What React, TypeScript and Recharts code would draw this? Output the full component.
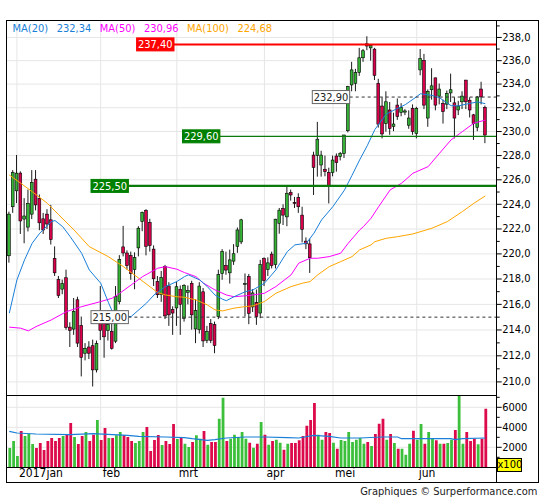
import React from "react";
import {
  ComposedChart,
  Bar,
  Line,
  XAxis,
  YAxis,
  CartesianGrid,
  ReferenceLine,
  Cell,
} from "recharts";

const FONT = '"DejaVu Sans Condensed", "Liberation Sans", Arial, sans-serif';
const UP = "#36b336";
const DOWN = "#d9004c";
const VOL_UP = "#3cc03c";
const VOL_DOWN = "#dc0a4b";
const MA20_COLOR = "#1a7fd8";
const MA50_COLOR = "#ff00ff";
const MA100_COLOR = "#ffa500";
const GRID = "#e6e6e6";

// month gridlines sit on the first session of each month (two Dec-2016 bars first)
const monthLabels = ["2017jan", "feb", "mrt", "apr", "mei", "jun"];
const monthStarts = [2, 24, 44, 67, 85, 107];

const opens = [
  219.85, 223.8, 225.1, 226.55, 222.8, 222.15, 223.2, 226.05, 224.48, 222.82,
  223.2, 222.74, 219.64, 217.95, 217.2, 218.1, 214.22, 214.07, 216.36, 214.35,
  212.2, 212.68, 212.78, 210.92, 214.77, 214.65, 213.97, 213.89, 213.13, 216.21,
  220.56, 220.07, 219.87, 218.74, 220.48, 222.6, 223.5, 222.52, 220.38, 217.8,
  216.76, 218.98, 217.45, 215.59, 215.72, 217.19, 214.91, 216.95, 217.66, 214.08,
  214.02, 216.99, 213.2, 214.49, 214.42, 215.05, 218.43, 219.07, 218.49, 219.42,
  220.61, 220.96, 217.58, 218.2, 215.8, 216.14, 215.32, 219.62, 218.76, 219.98,
  219.15, 222.46, 223.66, 222.98, 224.97, 224.15, 224.56, 223.12, 221.02, 220.8,
  228.04, 228.02, 227.22, 226.87, 226.61, 226.59, 227.96, 227.91, 228.18, 230.07,
  233.93, 234.07, 234.99, 236.25, 237.45, 237.1, 236.99, 234.07, 232.14, 230.67,
  231.81, 230.43, 232.22, 231.59, 231.63, 230.53, 231.95, 229.85, 235.21, 236.03,
  231.13, 233.52, 234.53, 232.98, 232.36, 232.3, 233.25, 232.41, 231.81, 232.5,
  234.34, 232.63, 231.4, 230.34, 233.58, 232.03,
];
const highs = [
  223.4, 226.8, 228.05, 226.7, 224.5, 225.2, 226.8, 226.8, 224.8, 223.3,
  223.6, 223.95, 220.6, 218.24, 217.95, 218.74, 214.6, 216.5, 216.6, 215.05,
  212.98, 213.13, 213.25, 213.18, 217.44, 215.35, 215.55, 214.62, 217.44, 219.9,
  222.25, 220.28, 220.18, 220.12, 222.22, 223.4, 223.6, 222.82, 220.68, 218.24,
  218.64, 219.12, 217.75, 215.85, 217.8, 217.49, 217.59, 217.49, 217.86, 216.4,
  217.75, 217.29, 214.32, 214.85, 214.65, 218.74, 220.38, 220.18, 220.34, 220.78,
  222.12, 222.82, 218.44, 218.4, 217.2, 217.17, 219.52, 219.72, 219.72, 220.18,
  222.82, 223.7, 224.0, 225.45, 225.2, 224.6, 224.9, 223.8, 221.32, 221.22,
  228.32, 230.81, 228.4, 228.0, 227.0, 228.0, 228.18, 228.3, 229.73, 233.85,
  235.9, 235.3, 237.1, 237.0, 238.1, 237.4, 237.1, 234.45, 232.88, 233.39,
  232.48, 231.58, 232.78, 232.38, 231.88, 231.78, 232.28, 232.08, 237.0, 236.58,
  233.55, 235.35, 234.55, 234.05, 232.68, 233.45, 234.89, 232.88, 232.58, 233.39,
  234.35, 232.88, 231.48, 232.98, 234.2, 232.18,
];
const lows = [
  219.3, 223.3, 224.1, 221.6, 220.85, 221.8, 222.8, 223.5, 221.9, 221.6,
  222.0, 220.75, 218.24, 216.5, 216.8, 214.02, 212.68, 213.62, 212.68, 210.42,
  211.65, 211.75, 209.65, 210.72, 213.22, 211.85, 213.18, 212.48, 212.98, 216.0,
  219.8, 218.74, 217.94, 217.19, 219.8, 221.82, 219.88, 220.18, 217.45, 216.5,
  216.2, 214.85, 214.32, 213.62, 214.32, 213.62, 214.65, 216.0, 214.02, 212.98,
  213.72, 212.68, 212.98, 212.98, 212.2, 214.85, 217.94, 218.34, 217.64, 219.12,
  220.08, 220.78, 215.05, 214.45, 215.4, 214.4, 214.92, 217.44, 218.24, 218.84,
  218.84, 221.62, 222.32, 222.22, 224.3, 223.7, 223.3, 220.92, 220.38, 218.48,
  224.76, 226.26, 226.26, 226.29, 224.07, 226.29, 226.67, 227.6, 227.8, 229.93,
  233.39, 233.39, 234.7, 235.9, 236.9, 236.0, 234.35, 230.33, 229.43, 229.99,
  229.73, 230.03, 230.98, 231.28, 231.38, 230.23, 229.73, 229.43, 234.75, 231.88,
  230.4, 232.68, 231.78, 232.28, 230.67, 231.88, 232.48, 229.43, 231.38, 231.88,
  231.88, 231.18, 229.3, 230.03, 232.28, 229.03,
];
const closes = [
  223.2, 226.6, 226.55, 222.65, 223.05, 224.08, 225.78, 223.95, 222.5, 221.92,
  222.4, 221.15, 218.49, 216.7, 217.63, 214.2, 213.97, 215.45, 212.98, 211.88,
  212.58, 212.2, 210.92, 212.94, 213.97, 213.47, 214.42, 212.58, 216.62, 219.56,
  220.07, 219.07, 218.43, 219.7, 222.06, 223.35, 220.61, 220.67, 218.02, 216.76,
  218.13, 215.1, 215.18, 215.32, 217.39, 216.0, 217.49, 217.09, 215.18, 215.51,
  217.44, 213.15, 213.88, 213.2, 212.8, 218.35, 220.2, 218.71, 219.52, 220.01,
  221.92, 222.74, 217.64, 215.3, 216.9, 215.04, 219.15, 217.88, 219.28, 219.07,
  222.79, 223.52, 223.12, 224.9, 224.76, 224.07, 223.8, 221.97, 220.8, 219.69,
  227.03, 229.36, 228.04, 226.67, 225.49, 227.63, 227.42, 228.18, 229.71, 233.8,
  235.21, 234.99, 236.25, 236.85, 237.26, 237.3, 234.75, 230.62, 229.8, 232.5,
  230.26, 230.63, 231.27, 232.03, 231.73, 231.13, 229.99, 231.95, 236.17, 232.22,
  233.39, 233.85, 232.22, 233.58, 231.68, 233.19, 233.52, 231.13, 232.14, 232.98,
  232.5, 231.81, 230.67, 232.91, 232.91, 229.71,
];
const volumes = [
  1930, 2630, 1130, 3630, 3130, 3360, 2330, 1930, 2430, 1730,
  2630, 2930, 2630, 2930, 3130, 3260, 4430, 3030, 2330, 3130,
  3530, 2630, 3260, 4730, 2730, 3930, 2930, 2930, 3200, 3530,
  3200, 3030, 2630, 2430, 2630, 3530, 4030, 1630, 2730, 3230,
  2230, 2630, 2330, 4330, 2830, 2950, 2350, 2030, 2530, 3200,
  2860, 3630, 2260, 2530, 2530, 4860, 6960, 2630, 2860, 3260,
  3030, 3530, 2860, 2460, 1960, 2360, 4530, 3260, 2260, 2630,
  2760, 2460, 1760, 2360, 2430, 2430, 2700, 3130, 4160, 4730,
  6430, 3260, 2760, 3530, 3430, 2460, 1860, 2730, 2630, 3530,
  2530, 2760, 2930, 2360, 2530, 2130, 3330, 4360, 4860, 2760,
  3330, 2430, 1860, 1860, 1260, 2360, 3660, 2760, 4330, 2360,
  3530, 2860, 2700, 2360, 2360, 2430, 2760, 3730, 7300, 2360,
  3530, 2630, 2860, 2300, 2860, 5860,
];

// moving averages at [bar, value]
const ma20Points = [
  [0, 215.31], [2, 217.93], [4, 219.52], [6, 220.85], [8, 221.66], [11, 222.59],
  [12, 222.68], [14, 222.19], [16, 221.38], [19, 220.05], [21, 218.72], [24, 217.67],
  [26, 216.17], [27, 215.48], [29, 215.05], [32, 215.05], [36, 216.09], [38, 216.74],
  [41, 217.4], [44, 217.8], [46, 218.19], [47, 218.33], [50, 217.93], [52, 217.4],
  [54, 216.74], [56, 216.4], [57, 216.29], [59, 216.6], [62, 217.0], [64, 217.14],
  [67, 217.67], [70, 218.72], [73, 220.18], [75, 220.72], [78, 220.85], [80, 221.66],
  [82, 222.73], [85, 223.82], [88, 225.15], [90, 226.37], [92, 227.64], [94, 228.82],
  [96, 230.17], [99, 231.47], [101, 231.79], [104, 232.26], [106, 232.71], [108, 233.18],
  [111, 233.04], [113, 232.84], [116, 232.17], [118, 232.16], [121, 232.37], [123, 232.49],
  [125, 232.34],
];
const ma50Points = [
  [0, 214.22], [3, 214.14], [5, 213.93], [7, 214.26], [11, 214.78], [15, 215.43],
  [19, 215.82], [24, 216.22], [27, 216.48], [29, 216.87], [32, 217.53], [35, 218.19],
  [39, 218.86], [41, 218.98], [44, 218.78], [46, 218.51], [49, 218.19], [51, 217.67],
  [54, 217.14], [57, 216.74], [59, 216.6], [63, 216.7], [67, 216.87], [70, 217.4],
  [74, 218.33], [76, 219.26], [79, 219.65], [81, 219.65], [84, 219.78], [87, 220.05],
  [89, 220.85], [92, 221.92], [93, 222.19], [95, 222.87], [97, 223.81], [100, 225.17],
  [103, 225.72], [106, 226.54], [110, 227.09], [113, 228.2], [116, 229.3], [119, 230.0],
  [122, 230.7], [125, 230.96],
];
const ma100Points = [
  [0, 226.4], [3, 225.72], [6, 225.03], [10, 224.08], [13, 223.14], [17, 221.92],
  [21, 220.58], [26, 219.78], [30, 218.98], [34, 218.06], [39, 216.92], [41, 216.74],
  [44, 216.6], [46, 216.56], [49, 216.35], [52, 215.96], [54, 215.57], [56, 215.49],
  [59, 215.7], [62, 215.83], [64, 215.88], [67, 216.22], [70, 216.87], [74, 217.4],
  [77, 217.67], [79, 217.8], [81, 218.33], [84, 218.98], [87, 219.38], [90, 219.78],
  [92, 220.32], [95, 220.72], [96, 220.98], [99, 221.25], [102, 221.38], [106, 221.6],
  [111, 222.06], [115, 222.59], [119, 223.41], [122, 224.08], [125, 224.68],
];
const volMaPoints = [
  [0, 3600], [2, 3430], [7, 3330], [16, 3260], [22, 3360], [31, 3200], [34, 3100],
  [41, 3030], [46, 2960], [48, 2860], [52, 2700], [54, 2760], [57, 2930], [62, 3030],
  [67, 3030], [73, 2960], [76, 2930], [80, 3200], [84, 3100], [87, 2930], [92, 2930],
  [98, 3030], [102, 3030], [103, 2860], [116, 2860], [117, 2760], [119, 2860], [125, 2930],
];

const legendNames = ["MA(20)", "MA(50)", "MA(100)"];
const legendValues = ["232,34", "230,96", "224,68"];
const legendColors = [MA20_COLOR, MA50_COLOR, MA100_COLOR];

// horizontal levels drawn on the price panel
const levelValues = [237.4, 229.6, 225.5, 232.9, 215.0];
const levelStyles = [
  { boxLeft: 136.6, fill: "#ff0000", border: "#ff0000", text: "#fff", line: "#ff0000", width: 2, dash: undefined },
  { boxLeft: 182.5, fill: "#008000", border: "#008000", text: "#fff", line: "#0a7a0a", width: 1.3, dash: undefined },
  { boxLeft: 91, fill: "#008000", border: "#008000", text: "#fff", line: "#0a7a0a", width: 2.2, dash: undefined },
  { boxLeft: 312.3, fill: "#fff", border: "#666", text: "#222", line: "#333", width: 1, dash: "3 3" },
  { boxLeft: 91, fill: "#fff", border: "#666", text: "#222", line: "#333", width: 1, dash: "3 3" },
];

const priceTicks = [
  210, 211, 212, 213, 214, 215, 216, 217, 218, 219, 220, 221, 222, 223, 224,
  225, 226, 227, 228, 229, 230, 231, 232, 233, 234, 235, 236, 237, 238, 239,
];
const priceGrid = [210, 212, 214, 216, 218, 220, 222, 224, 226, 228, 230, 232, 234, 236, 238];
const volTicks = [1000, 2000, 3000, 4000, 5000, 6000, 7000];
const volGrid = [2000, 4000, 6000];

const rows: any[] = opens.map((o, i) => ({
  i,
  o,
  h: highs[i],
  l: lows[i],
  c: closes[i],
  range: [lows[i], highs[i]],
  vol: volumes[i],
}));
ma20Points.forEach(([i, v]) => (rows[i].ma20 = v));
ma50Points.forEach(([i, v]) => (rows[i].ma50 = v));
ma100Points.forEach(([i, v]) => (rows[i].ma100 = v));
volMaPoints.forEach(([i, v]) => (rows[i].volMa = v));

const X_PAD = { left: 1.1, right: 9.5 };
const MARGIN_SIDES = { left: 6.3, right: 6.7 };
const AXIS_W = 41.6;
const BOX_W = 37.4;

const Candle = (props: any) => {
  const { x, y, width, height, payload } = props;
  if (x == null || y == null || !payload) return null;
  const { o, h, l, c } = payload;
  const lh = Math.log(h);
  const span = lh - Math.log(l) || 1;
  const py = (v: number) => y + (height * (lh - Math.log(v))) / span;
  const cx = x + width / 2;
  const top = py(Math.max(o, c));
  const bot = py(Math.min(o, c));
  return (
    <g>
      <line x1={cx} x2={cx} y1={y} y2={y + height} stroke="#000" strokeWidth={0.9} />
      <rect
        x={cx - 1.4}
        y={top}
        width={2.8}
        height={Math.max(bot - top, 0.8)}
        fill={c >= o ? UP : DOWN}
        stroke="#000"
        strokeWidth={0.6}
      />
    </g>
  );
};

const PriceTick = ({ x, y, payload }: any) => {
  const v = payload.value;
  const major = v % 2 === 0;
  return (
    <g>
      <line x1={x} x2={x + (major ? 5 : 3)} y1={y} y2={y} stroke="#000" />
      {major && (
        <text x={x + 5.5} y={y} dy="0.3em" fontSize={11} fontFamily={FONT} fill="#000">
          {v.toFixed(1).replace(".", ",")}
        </text>
      )}
    </g>
  );
};

const VolTick = ({ x, y, payload }: any) => {
  const v = payload.value;
  const major = v % 2000 === 0;
  return (
    <g>
      <line x1={x} x2={x + (major ? 5 : 3)} y1={y} y2={y} stroke="#000" />
      {major && (
        <text x={x + 5.5} y={y} dy="0.3em" fontSize={11} fontFamily={FONT} fill="#000">
          {v}
        </text>
      )}
    </g>
  );
};

const MonthTick = ({ x, y, payload }: any) => (
  <text x={x + 2} y={y + 10} fontSize={12} fontFamily={FONT} fill="#000">
    {monthLabels[monthStarts.indexOf(payload.value)]}
  </text>
);

const LevelShape = (props: any) => {
  const { x1, x2, y1, level, value } = props;
  if (y1 == null) return null;
  const boxRight = level.boxLeft + BOX_W;
  const plotRight = Math.max(x1, x2);
  return (
    <g>
      <line
        x1={boxRight}
        x2={plotRight}
        y1={y1}
        y2={y1}
        stroke={level.line}
        strokeWidth={level.width}
        strokeDasharray={level.dash}
      />
      <rect x={level.boxLeft} y={y1 - 6.5} width={BOX_W} height={13} fill={level.fill} stroke={level.border} />
      <text
        x={level.boxLeft + BOX_W / 2}
        y={y1}
        dy="0.35em"
        textAnchor="middle"
        fontSize={11}
        fontFamily={FONT}
        fill={level.text}
      >
        {value.toFixed(2).replace(".", ",")}
      </text>
    </g>
  );
};

const line = (style: React.CSSProperties) => (
  <div style={{ position: "absolute", background: "#000", ...style }} />
);

export default function App() {
  return (
    <div style={{ position: "absolute", left: 0, top: 0, width: 545, height: 500, background: "#fff", fontFamily: FONT }}>
      {/* price panel */}
      <div style={{ position: "absolute", left: 0, top: 0 }}>
        <ComposedChart
          width={545}
          height={400}
          data={rows}
          margin={{ top: 20.5, bottom: 4.7, ...MARGIN_SIDES }}
          barCategoryGap={0}
        >
          <CartesianGrid stroke={GRID} horizontalValues={priceGrid} verticalValues={monthStarts} />
          <XAxis dataKey="i" type="category" hide padding={X_PAD} />
          <YAxis
            orientation="right"
            width={AXIS_W}
            scale="log"
            domain={[208.98, 239.47]}
            allowDataOverflow
            ticks={priceTicks}
            interval={0}
            tick={<PriceTick />}
            tickLine={false}
            tickSize={0}
            tickMargin={0}
            axisLine={false}
          />
          <Bar dataKey="range" barSize={3} shape={<Candle />} isAnimationActive={false} />
          <Line dataKey="ma100" stroke={MA100_COLOR} strokeWidth={1} dot={false} connectNulls isAnimationActive={false} />
          <Line dataKey="ma50" stroke={MA50_COLOR} strokeWidth={1} dot={false} connectNulls isAnimationActive={false} />
          <Line dataKey="ma20" stroke={MA20_COLOR} strokeWidth={1} dot={false} connectNulls isAnimationActive={false} />
          {levelValues.map((v, j) => (
            <ReferenceLine
              key={v}
              y={v}
              shape={(p: any) => <LevelShape {...p} level={levelStyles[j]} value={v} />}
            />
          ))}
        </ComposedChart>
      </div>

      {/* volume panel */}
      <div style={{ position: "absolute", left: 0, top: 390 }}>
        <ComposedChart
          width={545}
          height={110}
          data={rows}
          margin={{ top: 5.3, bottom: 17.7, ...MARGIN_SIDES }}
          barCategoryGap={0}
        >
          <CartesianGrid stroke={GRID} horizontalValues={volGrid} verticalValues={monthStarts} />
          <XAxis
            dataKey="i"
            type="category"
            padding={X_PAD}
            height={15}
            ticks={monthStarts}
            interval={0}
            tick={<MonthTick />}
            tickLine={false}
            tickSize={0}
            tickMargin={0}
            axisLine={false}
          />
          <YAxis
            orientation="right"
            width={AXIS_W}
            domain={[0, 7200]}
            allowDataOverflow
            ticks={volTicks}
            interval={0}
            tick={<VolTick />}
            tickLine={false}
            tickSize={0}
            tickMargin={0}
            axisLine={false}
          />
          <Bar dataKey="vol" barSize={2.8} isAnimationActive={false}>
            {rows.map((r) => (
              <Cell key={r.i} fill={r.c >= r.o ? VOL_UP : VOL_DOWN} />
            ))}
          </Bar>
          <Line dataKey="volMa" stroke={MA20_COLOR} strokeWidth={1.2} dot={false} connectNulls isAnimationActive={false} />
        </ComposedChart>
      </div>

      {/* frame */}
      <div
        style={{
          position: "absolute",
          left: 5.8,
          top: 20,
          width: 533,
          height: 463,
          border: "1.5px solid #000",
          boxSizing: "border-box",
        }}
      />
      {line({ left: 496, top: 20, width: 1.3, height: 463 })}
      {line({ left: 6, top: 394.7, width: 491, height: 1.3 })}
      {line({ left: 6, top: 466.7, width: 491, height: 1.3 })}

      {/* legend */}
      <div style={{ position: "absolute", left: 12.5, top: 21.5, fontSize: 11, lineHeight: "13px", display: "flex", whiteSpace: "nowrap" }}>
        {legendNames.map((n, j) => (
          <React.Fragment key={n}>
            <span style={{ color: legendColors[j], marginRight: 8.5 }}>{n}</span>
            <span style={{ color: legendColors[j], marginRight: 8.5 }}>{legendValues[j]}</span>
          </React.Fragment>
        ))}
      </div>

      {/* volume unit */}
      <div
        style={{
          position: "absolute",
          left: 496.5,
          top: 458.3,
          width: 25.8,
          height: 13.4,
          background: "#ffff00",
          border: "1px solid #000",
          boxSizing: "border-box",
          fontSize: 11,
          lineHeight: "11.4px",
          textAlign: "center",
          color: "#000",
        }}
      >
        x100
      </div>

      <div style={{ position: "absolute", right: 7.5, top: 485, fontSize: 11, lineHeight: "13px", color: "#222", whiteSpace: "nowrap" }}>
        Graphiques © Surperformance.com
      </div>
    </div>
  );
}
